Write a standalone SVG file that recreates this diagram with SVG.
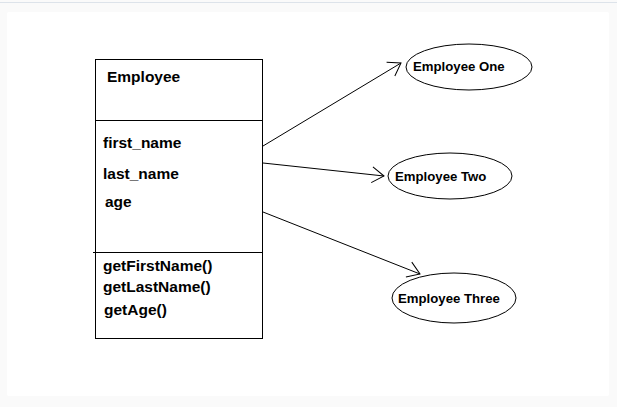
<svg xmlns="http://www.w3.org/2000/svg" width="617" height="407" viewBox="0 0 617 407">
<style>
.ln{stroke:#000;stroke-width:1;fill:none}
.t{font-family:"Liberation Sans",Arial,sans-serif;font-weight:bold;font-size:15.5px;fill:#000}
.e{font-family:"Liberation Sans",Arial,sans-serif;font-weight:bold;font-size:13.2px;fill:#000}
</style>
<defs>
<marker id="arr" markerUnits="userSpaceOnUse" markerWidth="30" markerHeight="30" refX="0" refY="0" viewBox="-15 -15 30 30" orient="auto" overflow="visible">
<path d="M-12,-8 L0,0 L-12,8" stroke="#000" stroke-width="1" fill="none"/>
</marker>
</defs>
<rect x="0" y="0" width="617" height="407" fill="#fafafa"/>
<rect x="0" y="2" width="617" height="1" fill="#dde3ea"/>
<rect x="7" y="12" width="602" height="384" rx="2" fill="#fff"/>
<g id="employee-class">
<rect class="ln" x="95.5" y="59.5" width="167" height="279"/>
<line class="ln" x1="95" y1="120.5" x2="263" y2="120.5"/>
<line class="ln" x1="93" y1="252.5" x2="263" y2="252.5"/>
<text class="t" x="107" y="82">Employee</text>
<text class="t" x="103" y="148">first_name</text>
<text class="t" x="103" y="179">last_name</text>
<text class="t" x="105" y="207">age</text>
<text class="t" x="103" y="271">getFirstName()</text>
<text class="t" x="103" y="292">getLastName()</text>
<text class="t" x="104" y="315">getAge()</text>
</g>
<g id="employee-one">
<ellipse class="ln" cx="469" cy="67" rx="63" ry="23"/>
<text class="e" x="413" y="71">Employee One</text>
</g>
<g id="employee-two">
<ellipse class="ln" cx="450" cy="176" rx="62" ry="23"/>
<text class="e" x="395" y="181">Employee Two</text>
</g>
<g id="employee-three">
<ellipse class="ln" cx="454" cy="298" rx="62" ry="25"/>
<text class="e" x="398" y="303">Employee Three</text>
</g>
<g id="connectors">
<line class="ln" x1="263" y1="146" x2="401" y2="63" marker-end="url(#arr)"/>
<line class="ln" x1="263" y1="163" x2="384" y2="176" marker-end="url(#arr)"/>
<line class="ln" x1="263" y1="212" x2="420" y2="274" marker-end="url(#arr)"/>
</g>
</svg>
